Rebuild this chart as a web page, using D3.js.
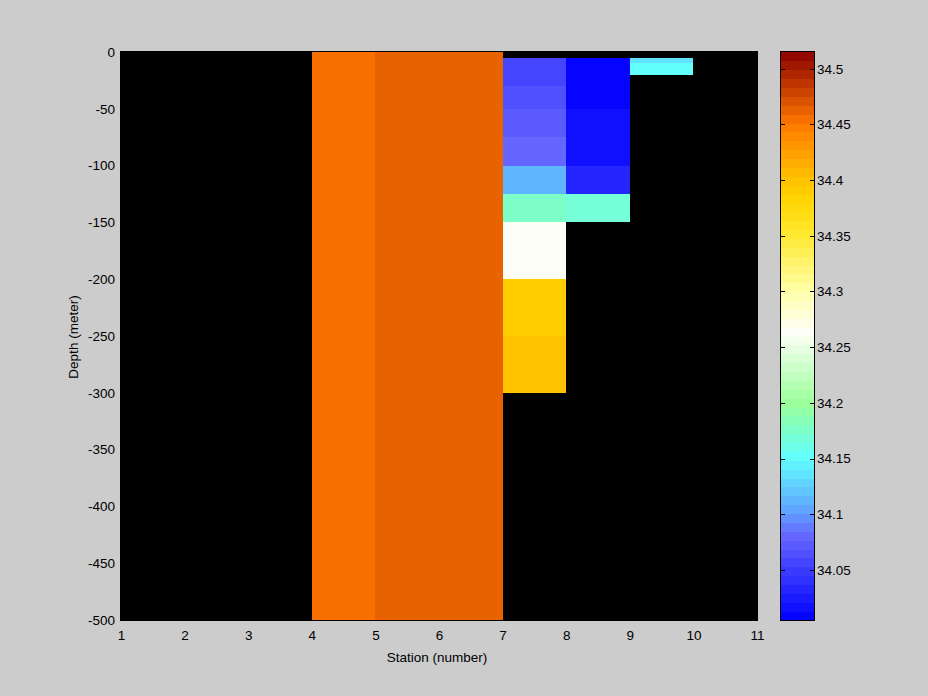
<!DOCTYPE html>
<html>
<head>
<meta charset="utf-8">
<script src="https://cdn.jsdelivr.net/npm/d3@7"></script>
<style>
  html, body { margin: 0; padding: 0; background: #cccccc; }
  svg { display: block; }
  text { font-family: "Liberation Sans", Arial, sans-serif; font-size: 13.5px; fill: #000; }
</style>
</head>
<body>
<svg id="chart" width="928" height="696"></svg>
<script>
// ---- Data ----
const stationTicks = [1, 2, 3, 4, 5, 6, 7, 8, 9, 10, 11];
const depthTicks = [0, -50, -100, -150, -200, -250, -300, -350, -400, -450, -500];
const colorTicks = [34.05, 34.1, 34.15, 34.2, 34.25, 34.3, 34.35, 34.4, 34.45, 34.5];
// station interval edges (columns) and depth interval edges (rows, metres below surface)
const stationEdges = [1, 2, 3, 4, 5, 6, 7, 8, 9, 10, 11];
const depthEdges = [0, 5, 10, 20, 30, 50, 75, 100, 125, 150, 200, 250, 300, 500];
// salinity per station interval (one array per column); null = no data
const col1_2  = [null, null, null, null, null, null, null, null, null, null, null, null, null];
const col2_3  = [null, null, null, null, null, null, null, null, null, null, null, null, null];
const col3_4  = [null, null, null, null, null, null, null, null, null, null, null, null, null];
const col4_5  = [34.455, 34.455, 34.455, 34.455, 34.455, 34.455, 34.455, 34.455, 34.455, 34.455, 34.455, 34.455, 34.455];
const col5_6  = [34.463, 34.463, 34.463, 34.463, 34.463, 34.463, 34.463, 34.463, 34.463, 34.463, 34.463, 34.463, 34.463];
const col6_7  = [34.463, 34.463, 34.463, 34.463, 34.463, 34.463, 34.463, 34.463, 34.463, 34.463, 34.463, 34.463, 34.463];
const col7_8  = [null, 34.056, 34.056, 34.056, 34.065, 34.073, 34.081, 34.113, 34.176, 34.264, 34.392, 34.399, null];
const col8_9  = [null, 34.008, 34.008, 34.008, 34.008, 34.017, 34.017, 34.033, 34.168, null, null, null, null];
const col9_10 = [null, 34.137, 34.152, null, null, null, null, null, null, null, null, null, null];
const col10_11= [null, null, null, null, null, null, null, null, null, null, null, null, null];
const columns = [col1_2, col2_3, col3_4, col4_5, col5_6, col6_7, col7_8, col8_9, col9_10, col10_11];
const cLimits = [34.005, 34.515];
// custom colormap stops (position, colour), quantized to 64 levels
const cmapStops = [
  [0, "#0000ff"], [0.15, "#6666ff"], [0.19, "#60a0ff"], [0.285, "#60ffff"],
  [0.38, "#99ff99"], [0.51, "#fffff8"], [0.58, "#ffffa8"], [0.68, "#ffe830"],
  [0.74, "#ffd500"], [0.78, "#ffc000"], [0.875, "#ff7800"], [1, "#8c0000"]
];
const nLevels = 64;

// ---- Layout ----
const svg = d3.select("#chart");
const plot = { left: 121, right: 757, top: 52, bottom: 620 };
const cbar = { left: 781, right: 814, top: 52, bottom: 620 };

const x = d3.scaleLinear().domain([1, 11]).range([plot.left, plot.right]);
const y = d3.scaleLinear().domain([0, -500]).range([plot.top, plot.bottom]);

const cont = d3.scaleLinear()
  .domain(cmapStops.map(d => d[0]))
  .range(cmapStops.map(d => d[1]))
  .interpolate(d3.interpolateRgb);
const levelColors = d3.range(nLevels).map(i => cont((i + 0.5) / nLevels));
const tScale = d3.scaleLinear().domain(cLimits).range([0, 1]).clamp(true);
function colorOf(v) {
  let i = Math.floor(tScale(v) * nLevels);
  i = Math.max(0, Math.min(nLevels - 1, i));
  return levelColors[i];
}
const hyphenFmt = d => String(d);

// plot background
svg.append("rect")
  .attr("x", plot.left).attr("y", plot.top - 1)
  .attr("width", plot.right - plot.left).attr("height", plot.bottom - plot.top + 1)
  .attr("fill", "#000");

// cells
const cells = [];
columns.forEach((col, ci) => {
  col.forEach((v, ri) => {
    if (v !== null) cells.push({ x0: stationEdges[ci], x1: stationEdges[ci + 1], d0: depthEdges[ri], d1: depthEdges[ri + 1], v });
  });
});
svg.append("g").attr("shape-rendering", "crispEdges")
  .selectAll("rect").data(cells).join("rect")
  .attr("x", d => x(d.x0))
  .attr("width", d => x(d.x1) - x(d.x0))
  .attr("y", d => y(-d.d0))
  .attr("height", d => y(-d.d1) - y(-d.d0))
  .attr("fill", d => colorOf(d.v));

// axes
const xAxis = d3.axisBottom(x).tickValues(stationTicks).tickSize(0).tickPadding(10).tickFormat(hyphenFmt);
const gx = svg.append("g").attr("transform", `translate(0,${plot.bottom})`).call(xAxis);
gx.select(".domain").remove();
gx.selectAll("text").style("font-family", "Liberation Sans, Arial, sans-serif").style("font-size", "13.5px").attr("fill", "#000");

const yAxis = d3.axisLeft(y).tickValues(depthTicks).tickSize(0).tickPadding(6).tickFormat(hyphenFmt);
const gy = svg.append("g").attr("transform", `translate(${plot.left},0)`).call(yAxis);
gy.select(".domain").remove();
gy.selectAll("text").style("font-family", "Liberation Sans, Arial, sans-serif").style("font-size", "13.5px").attr("fill", "#000");

// plot frame
svg.append("rect")
  .attr("x", plot.left - 0.5).attr("y", plot.top - 0.5)
  .attr("width", plot.right - plot.left + 1).attr("height", plot.bottom - plot.top + 1)
  .attr("fill", "none").attr("stroke", "#000").attr("stroke-width", 1);

// axis labels
svg.append("text").attr("x", 437).attr("y", 662).attr("text-anchor", "middle").text("Station (number)");
svg.append("text").attr("transform", "translate(78,337) rotate(-90)").attr("text-anchor", "middle").text("Depth (meter)");

// colorbar
const cy = d3.scaleLinear().domain(cLimits).range([cbar.bottom, cbar.top]);
const bandH = (cbar.bottom - cbar.top) / nLevels;
svg.append("g").attr("shape-rendering", "crispEdges")
  .selectAll("rect").data(levelColors).join("rect")
  .attr("x", cbar.left)
  .attr("width", cbar.right - cbar.left)
  .attr("y", (d, i) => cbar.bottom - (i + 1) * bandH)
  .attr("height", bandH + 0.5)
  .attr("fill", d => d);
svg.append("rect")
  .attr("x", cbar.left - 0.5).attr("y", cbar.top - 0.5)
  .attr("width", cbar.right - cbar.left + 1).attr("height", cbar.bottom - cbar.top + 1)
  .attr("fill", "none").attr("stroke", "#000");

const cAxis = d3.axisRight(cy).tickValues(colorTicks).tickSize(0).tickPadding(3).tickFormat(hyphenFmt);
const gc = svg.append("g").attr("transform", `translate(${cbar.right},0)`).call(cAxis);
gc.select(".domain").remove();
gc.selectAll("text").style("font-family", "Liberation Sans, Arial, sans-serif").style("font-size", "13.5px").attr("fill", "#000");

// colorbar inside ticks on both sides
const tickG = svg.append("g").attr("stroke", "#000").attr("shape-rendering", "crispEdges");
colorTicks.forEach(t => {
  const yy = Math.round(cy(t)) + 0.5;
  tickG.append("line").attr("x1", cbar.left).attr("x2", cbar.left + 4).attr("y1", yy).attr("y2", yy);
  tickG.append("line").attr("x1", cbar.right - 4).attr("x2", cbar.right).attr("y1", yy).attr("y2", yy);
});
</script>
</body>
</html>
